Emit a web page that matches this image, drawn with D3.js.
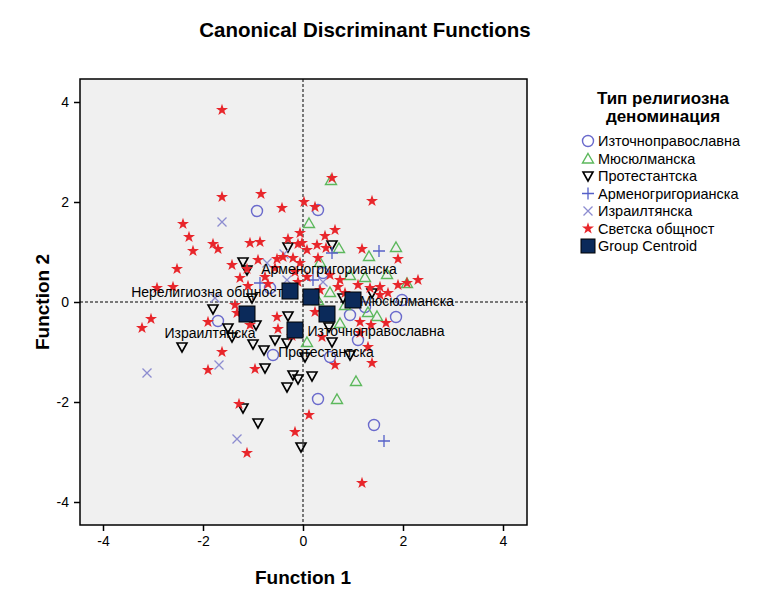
<!DOCTYPE html>
<html>
<head>
<meta charset="utf-8">
<script src="https://cdn.jsdelivr.net/npm/d3@7"></script>
<style>
  body { margin: 0; background: #fff; }
  text { font-family: "Liberation Sans", Arial, sans-serif; }
</style>
</head>
<body>
<div id="chart"></div>
<script>
// group names, same order as legend
var groups = ["Източноправославна", "Мюсюлманска", "Протестантска",
              "Арменогригорианска", "Израилтянска", "Светска общност"];

// case scores [function 1, function 2]
var orthodox = [[-0.92,1.82],[0.30,1.84],[-0.66,0.28],[-1.70,-0.38],[-0.60,-1.06],[1.98,0.04],
  [1.86,-0.30],[0.94,-0.26],[1.10,-0.76],[0.54,-1.10],[0.30,-1.94],[1.42,-2.46],[0.40,0.58],[1.24,-0.10]];
var muslim = [[0.56,2.44],[0.12,1.58],[0.72,1.08],[0.34,0.80],[1.32,0.92],[1.86,1.10],[1.68,0.56],
  [0.94,0.54],[1.24,0.50],[0.54,0.20],[2.08,0.38],[1.30,-0.20],[1.48,-0.28],[0.74,-0.42],[0.08,-0.80],
  [1.06,-1.58],[0.68,-1.94],[0.84,-0.06],[0.30,0.04]];
var protestant = [[-0.30,1.10],[-1.20,0.80],[-1.12,0.64],[0.58,1.14],[-1.02,0.08],[-1.80,-0.14],
  [-1.50,-0.52],[-1.42,-0.70],[-0.94,-0.46],[-0.30,-0.28],[-1.00,-0.84],[-0.56,-0.76],[-0.32,-0.82],
  [-2.42,-0.90],[-0.78,-0.96],[-0.76,-1.32],[-0.20,-1.46],[-0.10,-1.54],[-0.32,-1.70],[-1.20,-2.12],
  [-0.90,-2.42],[-0.04,-2.90],[0.18,-1.48],[0.04,-1.10],[0.58,-0.80],[0.52,-0.50],[0.94,-1.06],
  [1.38,0.18],[0.80,0.08]];
var armenian = [[-0.86,0.38],[0.58,0.98],[1.52,1.02],[1.62,-2.78],[0.20,0.44]];
var jewish = [[-1.62,1.60],[-0.72,0.78],[-0.38,0.96],[-0.32,0.44],[-1.76,0.08],[-1.68,-1.26],
  [-3.12,-1.42],[-1.32,-2.74],[0.40,0.40]];
var secular = [[-1.62,3.84],[-1.62,2.10],[-0.84,2.16],[-0.42,1.88],[0.02,2.00],[-2.40,1.56],[0.58,2.48],
  [1.38,2.02],[0.24,1.90],[0.64,1.44],[-2.28,1.30],[-2.20,1.02],[-1.80,1.16],[-1.70,1.06],[-1.06,1.18],
  [-0.86,1.20],[-0.30,1.26],[-0.06,1.38],[-0.10,1.16],[-0.52,0.86],[-0.20,0.88],[-1.42,0.74],[-0.90,0.84],
  [-1.12,0.66],[-0.56,0.68],[-1.26,0.48],[-0.76,0.50],[-0.70,0.36],[-1.10,0.32],[-0.16,0.60],[-0.06,0.78],
  [-2.52,0.66],[-2.92,0.28],[-2.60,0.30],[-0.10,0.40],[-1.36,-0.06],[-1.32,-0.22],[-3.04,-0.34],
  [-3.22,-0.52],[-1.90,-0.40],[-1.06,-0.46],[-0.52,-0.30],[-0.50,-0.54],[-0.22,-0.68],[-1.62,-1.00],
  [-1.90,-1.36],[-0.96,-1.34],[-1.28,-2.04],[-1.12,-3.02],[-0.16,-2.60],[0.12,-2.26],[1.18,-3.62],
  [-0.02,1.18],[0.44,1.32],[0.28,1.14],[0.46,1.08],[0.08,1.04],[0.30,0.88],[1.18,1.06],[1.90,0.86],
  [0.08,0.50],[0.54,0.54],[0.74,0.44],[1.10,0.34],[1.54,0.30],[1.90,0.34],[2.08,0.38],[2.30,0.44],
  [1.34,0.28],[1.54,0.14],[1.70,0.18],[0.70,0.30],[0.24,-0.20],[1.14,-0.40],[1.66,-0.42],[1.36,-0.46],
  [0.38,-0.70],[1.14,-0.62],[1.30,-0.90],[0.64,-1.26],[1.38,-1.22],[-0.40,0.90],[0.34,0.24],[0.84,0.18]];

// group centroids
var centroidNames = ["Източноправославна", "Мюсюлманска", "Протестантска",
                     "Арменогригорианска", "Израилтянска", "Нерелигиозна общност"];
var centroidX = [0.48, 1.00, -0.16, 0.16, -1.12, -0.26];
var centroidY = [-0.24, 0.04, -0.56, 0.10, -0.24, 0.22];
// where SPSS put the centroid labels (label centre)
var labelX = [1.46, 2.08, 0.46, 0.52, -1.86, -1.92];
var labelY = [-0.58, 0.02, -1.00, 0.66, -0.62, 0.20];

var xTicks = [-4, -2, 0, 2, 4];
var yTicks = [-4, -2, 0, 2, 4];

var width = 757, height = 594;
var plot = {left: 80, right: 527, top: 79, bottom: 525};

var svg = d3.select("#chart").append("svg")
    .attr("width", width)
    .attr("height", height);

var x = d3.scaleLinear().domain([-4.46, 4.48]).range([plot.left, plot.right]);
var y = d3.scaleLinear().domain([-4.46, 4.46]).range([plot.bottom, plot.top]);

svg.append("rect")
    .attr("x", plot.left).attr("y", plot.top)
    .attr("width", plot.right - plot.left).attr("height", plot.bottom - plot.top)
    .attr("fill", "#f0f0f0");

// zero lines
svg.append("line")
    .attr("x1", x(0)).attr("x2", x(0)).attr("y1", plot.top).attr("y2", plot.bottom)
    .attr("stroke", "#000").attr("stroke-dasharray", "3,2");
svg.append("line")
    .attr("x1", plot.left).attr("x2", plot.right).attr("y1", y(0)).attr("y2", y(0))
    .attr("stroke", "#000").attr("stroke-dasharray", "3,2");

// axes
var xAxis = svg.append("g")
    .attr("transform", "translate(0," + plot.bottom + ")")
    .call(d3.axisBottom(x).tickValues(xTicks).tickSize(6).tickPadding(5).tickSizeOuter(0));
var yAxis = svg.append("g")
    .attr("transform", "translate(" + plot.left + ",0)")
    .call(d3.axisLeft(y).tickValues(yTicks).tickSize(6).tickPadding(5).tickSizeOuter(0));
[xAxis, yAxis].forEach(function(a) {
    a.select(".domain").remove();
    a.selectAll(".tick line").attr("stroke", "#000").attr("stroke-width", 1.5);
    a.selectAll(".tick text").attr("font-size", 14).attr("fill", "#000")
        .style("font-family", "Liberation Sans, Arial, sans-serif")
        .text(function(d) { return d; });
});

// markers
var colors = ["#6a6acc", "#5cb85c", "#000000", "#5560c8", "#8c8cd0", "#e8262b"];
var shapes = ["circle", "triUp", "triDown", "plus", "cross", "star"];

function drawMarker(g, shape, color) {
    if (shape == "circle") {
        g.append("circle").attr("r", 5.5).attr("fill", "none").attr("stroke", color).attr("stroke-width", 1.4);
    } else if (shape == "triUp") {
        g.append("path").attr("d", "M0,-5L5.5,4.5L-5.5,4.5Z").attr("fill", "none")
            .attr("stroke", color).attr("stroke-width", 1.4);
    } else if (shape == "triDown") {
        g.append("path").attr("d", "M0,5L5,-4L-5,-4Z").attr("fill", "none")
            .attr("stroke", color).attr("stroke-width", 1.6);
    } else if (shape == "plus") {
        g.append("path").attr("d", "M-6,0H6M0,-6V6").attr("stroke", color).attr("stroke-width", 1.3);
    } else if (shape == "cross") {
        g.append("path").attr("d", "M-4.5,-4.5L4.5,4.5M-4.5,4.5L4.5,-4.5").attr("stroke", color).attr("stroke-width", 1.3);
    } else if (shape == "star") {
        g.append("path").attr("d", d3.symbol().type(d3.symbolStar).size(45)()).attr("fill", color);
    } else if (shape == "square") {
        g.append("rect").attr("x", -8).attr("y", -8).attr("width", 16).attr("height", 16)
            .attr("fill", "#0b2a5a").attr("stroke", "#000").attr("stroke-width", 1);
    }
}

var groupData = [orthodox, muslim, protestant, armenian, jewish, secular];
groupData.forEach(function(data, gi) {
    svg.append("g").selectAll("g")
        .data(data)
        .enter().append("g")
        .attr("transform", function(d) { return "translate(" + x(d[0]) + "," + y(d[1]) + ")"; })
        .each(function() { drawMarker(d3.select(this), shapes[gi], colors[gi]); });
});

// centroids
svg.append("g").selectAll("g")
    .data(centroidNames)
    .enter().append("g")
    .attr("transform", function(d, i) { return "translate(" + x(centroidX[i]) + "," + y(centroidY[i]) + ")"; })
    .each(function() { drawMarker(d3.select(this), "square"); });

svg.append("g").selectAll("text")
    .data(centroidNames)
    .enter().append("text")
    .attr("x", function(d, i) { return x(labelX[i]); })
    .attr("y", function(d, i) { return y(labelY[i]); })
    .attr("dy", "0.35em")
    .attr("text-anchor", "middle")
    .attr("font-size", 14)
    .text(function(d) { return d; });

// frame
svg.append("rect")
    .attr("x", plot.left).attr("y", plot.top)
    .attr("width", plot.right - plot.left).attr("height", plot.bottom - plot.top)
    .attr("fill", "none").attr("stroke", "#000").attr("stroke-width", 1.5);

// titles
svg.append("text").attr("x", 365).attr("y", 37).attr("text-anchor", "middle")
    .attr("font-size", 20.5).attr("font-weight", "bold").text("Canonical Discriminant Functions");
svg.append("text").attr("x", x(0)).attr("y", 584).attr("text-anchor", "middle")
    .attr("font-size", 19).attr("font-weight", "bold").text("Function 1");
svg.append("text").attr("transform", "translate(49," + y(0) + ") rotate(-90)").attr("text-anchor", "middle")
    .attr("font-size", 19).attr("font-weight", "bold").text("Function 2");

// legend
var legend = svg.append("g");
legend.append("text").attr("x", 663).attr("y", 104).attr("text-anchor", "middle")
    .attr("font-size", 17).attr("font-weight", "bold").text("Тип религиозна");
legend.append("text").attr("x", 663).attr("y", 122).attr("text-anchor", "middle")
    .attr("font-size", 17).attr("font-weight", "bold").text("деноминация");

var legendItems = groups.concat(["Group Centroid"]);
var item = legend.selectAll(".item")
    .data(legendItems)
    .enter().append("g")
    .attr("transform", function(d, i) { return "translate(588," + (141 + i * 17.5) + ")"; });
item.each(function(d, i) {
    drawMarker(d3.select(this), i < 6 ? shapes[i] : "square", colors[i]);
});
item.filter(function(d, i) { return i == 6; }).select("rect")
    .attr("x", -7).attr("y", -7).attr("width", 14).attr("height", 14);
item.append("text").attr("x", 10).attr("dy", "0.35em").attr("font-size", 14.5)
    .text(function(d) { return d; });
</script>
</body>
</html>
